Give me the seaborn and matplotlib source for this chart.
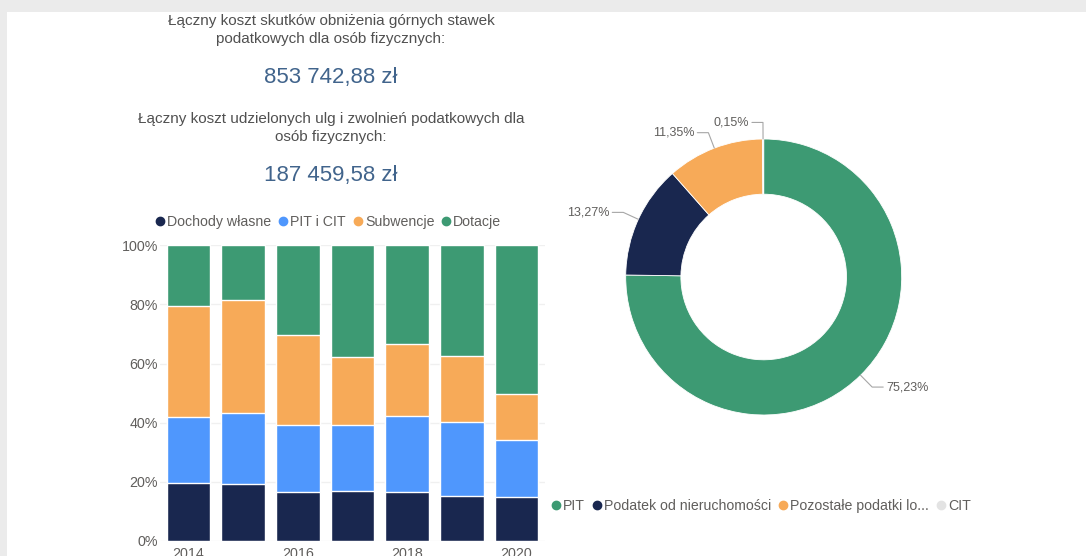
"""
Budget structure dashboard: stacked income shares per year and tax revenue donut.
"""

import numpy as np
import pandas as pd
import matplotlib

matplotlib.use("Agg")
import matplotlib.pyplot as plt
from matplotlib.lines import Line2D
from matplotlib.patches import Rectangle
import seaborn as sns

# data
years = ["2014", "2015", "2016", "2017", "2018", "2019", "2020"]
dochody_wlasne = [19.4, 19.1, 16.3, 16.9, 16.3, 15.1, 14.6]
pit_i_cit = [22.4, 24.1, 22.9, 22.4, 25.8, 25.2, 19.3]
subwencje = [37.7, 38.3, 30.4, 22.8, 24.6, 22.1, 15.6]
dotacje = [20.5, 18.5, 30.4, 37.9, 33.3, 37.6, 50.5]
bar_series = ["Dochody własne", "PIT i CIT", "Subwencje", "Dotacje"]

tax_labels = ["PIT", "Podatek od nieruchomości", "Pozostałe podatki lo...", "CIT"]
tax_shares = [75.23, 13.27, 11.35, 0.15]

header_lines = [
    "Łączny koszt skutków obniżenia górnych stawek\npodatkowych dla osób fizycznych:",
    "Łączny koszt udzielonych ulg i zwolnień podatkowych dla\nosób fizycznych:",
]
header_values = ["853 742,88 zł", "187 459,58 zł"]

# colours
NAVY = "#19274F"
BLUE = "#4F97FD"
ORANGE = "#F7AA58"
GREEN = "#3D9A73"
LIGHT = "#E3E3E3"
TEXT = "#605E5C"

W, H = 1086, 556

sns.set_style("white")
plt.rcParams["font.family"] = ["Liberation Sans", "DejaVu Sans"]


def px_axes(fig, x0, y0, x1, y1):
    """axes from pixel box (top-left origin)"""
    return fig.add_axes([x0 / W, 1 - y1 / H, (x1 - x0) / W, (y1 - y0) / H])


fig = plt.figure(figsize=(W / 100, H / 100), dpi=100, facecolor="#EBEBEB")
fig.patches.append(
    Rectangle((7 / W, 0), 1, 1 - 12 / H, transform=fig.transFigure,
              facecolor="white", edgecolor="none", zorder=-5)
)

# header texts
fig.text(331 / W, 1 - 30 / H, header_lines[0], ha="center", va="center",
         fontsize=11, color="#505050", linespacing=1.45)
fig.text(331 / W, 1 - 78 / H, header_values[0], ha="center", va="center",
         fontsize=16, color="#41648C")
fig.text(331 / W, 1 - 128 / H, header_lines[1], ha="center", va="center",
         fontsize=11, color="#505050", linespacing=1.45)
fig.text(331 / W, 1 - 176 / H, header_values[1], ha="center", va="center",
         fontsize=16, color="#41648C")

# stacked bars
df = pd.DataFrame(
    {
        "year": years,
        bar_series[0]: dochody_wlasne,
        bar_series[1]: pit_i_cit,
        bar_series[2]: subwencje,
        bar_series[3]: dotacje,
    }
)
cum = df[bar_series].cumsum(axis=1)
bar_colors = [NAVY, BLUE, ORANGE, GREEN]

ax = px_axes(fig, 160, 245.5, 545, 540.5)
ax.set_facecolor("none")
for name, col in reversed(list(zip(bar_series, bar_colors))):
    sns.barplot(x=df["year"], y=cum[name], color=col, width=0.8,
                saturation=1, ax=ax, zorder=3)

ax.set_xlim(-0.52, 6.52)
ax.set_ylim(0, 100)
ax.set_yticks(np.arange(0, 101, 20))
ax.set_yticklabels([f"{v}%" for v in range(0, 101, 20)])
ax.set_xticks(range(len(years)))
ax.set_xticklabels([y if i % 2 == 0 else "" for i, y in enumerate(years)])
ax.tick_params(axis="y", length=0, pad=1.5, labelsize=10.3, labelcolor=TEXT)
ax.tick_params(axis="x", length=0, pad=4.5, labelsize=10.3, labelcolor=TEXT)
ax.grid(axis="y", color="#F0F0F0", linewidth=1, zorder=0)
ax.set_axisbelow(True)
ax.set_xlabel("")
ax.set_ylabel("")
sns.despine(ax=ax, left=True, bottom=True)

bar_handles = [
    Line2D([], [], marker="o", linestyle="", markersize=6,
           markerfacecolor=c, markeredgecolor=c, label=n)
    for n, c in zip(bar_series, bar_colors)
]
fig.legend(handles=bar_handles, loc="center left",
           bbox_to_anchor=(153 / W, 1 - 222 / H), ncol=4, frameon=False,
           fontsize=10.2, labelcolor=TEXT, handletextpad=0.0,
           columnspacing=0.34, handlelength=1.0, borderaxespad=0,
           borderpad=0)

# donut
pie_colors = [GREEN, NAVY, ORANGE, LIGHT]
cx, cy, r = 763.7, 277, 138
lim = 1.3
pax = px_axes(fig, cx - lim * r, cy - lim * r, cx + lim * r, cy + lim * r)
wedges, _ = pax.pie(tax_shares, colors=pie_colors, startangle=90,
                    counterclock=False, radius=1.0,
                    wedgeprops=dict(width=0.4, edgecolor="white", linewidth=0.6))
pax.set_xlim(-lim, lim)
pax.set_ylim(-lim, lim)
pax.set_aspect("equal")

for w, val in zip(wedges, tax_shares):
    theta = np.deg2rad((w.theta1 + w.theta2) / 2)
    c, s = np.cos(theta), np.sin(theta)
    side = 1 if c > 0 else -1
    p1 = (1.12 * c, 1.12 * s)
    p2 = (p1[0] + side * 0.08, p1[1])
    pax.plot([c * 1.0, p1[0], p2[0]], [s * 1.0, p1[1], p2[1]],
             color="#A6A6A6", linewidth=0.8)
    pax.text(p2[0] + side * 0.02, p2[1], f"{val:.2f}%".replace(".", ","),
             ha="left" if side > 0 else "right", va="center",
             fontsize=9, color=TEXT)

pie_handles = [
    Line2D([], [], marker="o", linestyle="", markersize=6,
           markerfacecolor=c, markeredgecolor=c, label=n)
    for n, c in zip(tax_labels, pie_colors)
]
fig.legend(handles=pie_handles, loc="center left",
           bbox_to_anchor=(549 / W, 1 - 506 / H), ncol=4, frameon=False,
           fontsize=10.2, labelcolor=TEXT, handletextpad=0.0,
           columnspacing=0.34, handlelength=1.0, borderaxespad=0,
           borderpad=0)

plt.savefig("out.png", dpi=100, facecolor=fig.get_facecolor())
